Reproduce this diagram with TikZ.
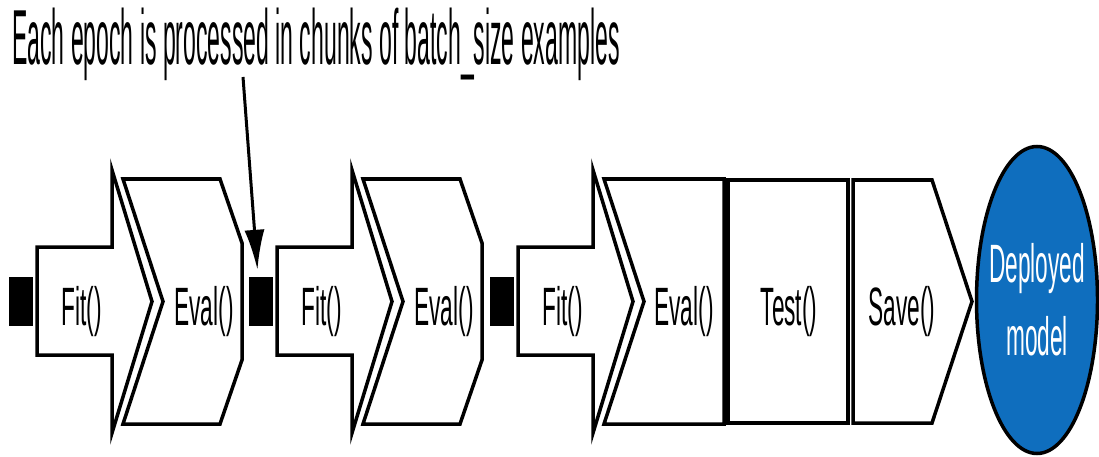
\documentclass[tikz,border=0pt]{standalone}
\usepackage{fontspec}
\usepackage{tikz}
\usetikzlibrary{arrows.meta,shapes.geometric}
\newfontfamily\titlefont[FakeStretch=0.295]{Liberation Sans}
\newfontfamily\stagefont[FakeStretch=0.42]{Liberation Sans}
\definecolor{modelblue}{HTML}{0F6EBE}
\tikzset{
  stage/.style={draw=black,line width=3.5pt,fill=white},
  stagetext/.style={anchor=base,inner sep=0pt,font=\stagefont\fontsize{54}{73}\selectfont},
  batchbox/.style={fill=black,minimum width=24pt,minimum height=49pt,inner sep=0pt},
  modelnode/.style={ellipse,draw=black,line width=3.5pt,fill=modelblue,minimum width=121pt,minimum height=307pt,inner sep=0pt},
  pointer/.style={line width=3pt,shorten >=7pt,-{Latex[length=40pt,width=20pt]}}
}
\begin{document}
\begin{tikzpicture}[x=1pt,y=-1pt]
  \useasboundingbox (0,0) rectangle (1099,457);
  \node[anchor=base west,inner sep=0pt,font=\titlefont\fontsize{78}{78}\selectfont] (title) at (12,65) {Each epoch is processed in chunks of batch\_size examples};
  % three epochs: batch marker and Fit() arrow
  \foreach \o/\k in {0/a,240/b,481/c}{
    \node[batchbox] (sq\k) at (\o+21,301.5) {};
    \draw[stage] (\o+37,247) -- (\o+112,247) -- (\o+112,170) -- (\o+152,301.5) -- (\o+112,433) -- (\o+112,355) -- (\o+37,355) -- cycle;
    \node[stagetext] (fit\k) at (\o+81.5,325) {Fit()};
  }
  \foreach \o/\k in {0/a,240/b}{
    \draw[stage] (\o+123,179) -- (\o+220,179) -- (\o+242,243) -- (\o+242,360) -- (\o+220,424) -- (\o+123,424) -- (\o+163,301.5) -- cycle;
    \node[stagetext] (eval\k) at (\o+204,325) {Eval()};
  }
  \draw[stage] (604,179) -- (724,179) -- (724,424) -- (604,424) -- (644,301.5) -- cycle;
  \node[stagetext] (evalc) at (684,325) {Eval()};
  \draw[stage] (728,180) rectangle (848,423);
  \node[stagetext] (test) at (789,325) {Test()};
  \draw[stage] (853,180) -- (932,180) -- (972,301.5) -- (932,423) -- (853,423) -- cycle;
  \node[stagetext] (save) at (902,325) {Save()};
  \node[modelnode] (model) at (1037,300) {};
  \node[stagetext,anchor=center,align=center,text=white] (modeltext) at (model) {Deployed\\model};
  % annotation
  \coordinate (note) at (243,77);
  \draw[pointer] (note) -- ([xshift=-3pt]sqb.north);
\end{tikzpicture}
\end{document}
